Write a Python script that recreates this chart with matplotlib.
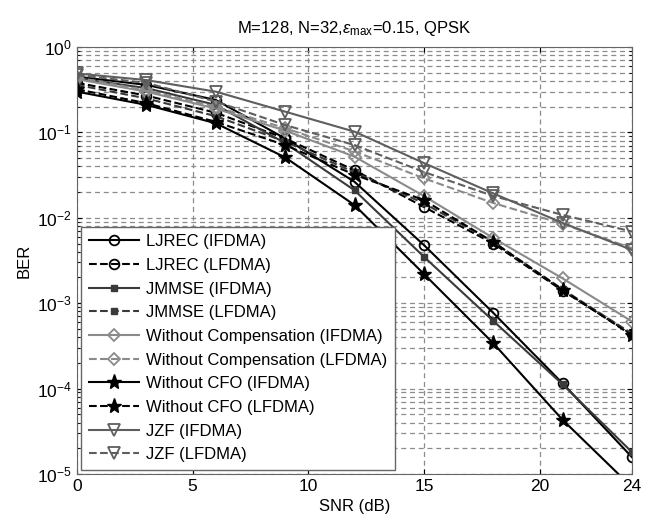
import numpy as np
import matplotlib
matplotlib.use('Agg')
import matplotlib.pyplot as plt
from matplotlib.ticker import LogLocator, NullFormatter

plt.rcParams['font.family'] = ['Liberation Sans', 'DejaVu Sans']
plt.rcParams['mathtext.fontset'] = 'custom'
plt.rcParams['mathtext.rm'] = 'Liberation Sans'
plt.rcParams['mathtext.it'] = 'Liberation Sans:italic'

# ---------------- data ----------------
snr = [0, 3, 6, 9, 12, 15, 18, 21, 24]

ljrec_ifdma = [0.45, 0.36, 0.24, 0.085, 0.0264, 4.8e-3, 7.7e-4, 1.15e-4, 1.57e-5]
ljrec_lfdma = [0.38, 0.27, 0.17, 0.085, 0.036, 0.0134, 5.0e-3, 1.4e-3, 4.3e-4]
jmmse_ifdma = [0.43, 0.33, 0.21, 0.075, 0.021, 3.5e-3, 6.2e-4, 1.12e-4, 1.8e-5]
jmmse_lfdma = [0.36, 0.25, 0.155, 0.078, 0.034, 0.0148, 5.2e-3, 1.45e-3, 4.4e-4]
wocomp_ifdma = [0.42, 0.30, 0.19, 0.105, 0.052, 0.018, 5.8e-3, 1.95e-3, 6.1e-4]
wocomp_lfdma = [0.44, 0.31, 0.20, 0.112, 0.060, 0.029, 0.0149, 8.5e-3, 4.4e-3]
wocfo_ifdma = [0.30, 0.21, 0.128, 0.051, 0.0141, 2.2e-3, 3.4e-4, 4.3e-5, 7e-6]
wocfo_lfdma = [0.32, 0.22, 0.133, 0.071, 0.032, 0.0161, 5.2e-3, 1.43e-3, 4.2e-4]
jzf_ifdma = [0.49, 0.41, 0.30, 0.175, 0.102, 0.0438, 0.0193, 0.0087, 4.2e-3]
jzf_lfdma = [0.47, 0.38, 0.23, 0.122, 0.071, 0.0344, 0.018, 0.0108, 6.9e-3]

labels = ['LJREC (IFDMA)', 'LJREC (LFDMA)', 'JMMSE (IFDMA)', 'JMMSE (LFDMA)',
          'Without Compensation (IFDMA)', 'Without Compensation (LFDMA)',
          'Without CFO (IFDMA)', 'Without CFO (LFDMA)',
          'JZF (IFDMA)', 'JZF (LFDMA)']

# ---------------- figure ----------------
fig = plt.figure(figsize=(6.54, 5.2), dpi=100)
ax = fig.add_axes([0.1177, 0.0885, 0.8487, 0.8211])

c_blk = '#000000'
c_dk = '#3a3a3a'
c_gr = '#8a8a8a'
c_jz = '#5e5e5e'

ax.plot(snr, ljrec_ifdma, '-', color=c_blk, lw=1.5, marker='o', ms=7, mfc='none', mew=1.3, label=labels[0])
ax.plot(snr, ljrec_lfdma, '--', color=c_blk, lw=1.5, marker='o', ms=7, mfc='none', mew=1.3, label=labels[1])
ax.plot(snr, jmmse_ifdma, '-', color=c_dk, lw=1.5, marker='s', ms=4, mfc=c_dk, label=labels[2])
ax.plot(snr, jmmse_lfdma, '--', color=c_dk, lw=1.5, marker='s', ms=4, mfc=c_dk, label=labels[3])
ax.plot(snr, wocomp_ifdma, '-', color=c_gr, lw=1.5, marker='D', ms=6, mfc='none', mew=1.3, label=labels[4])
ax.plot(snr, wocomp_lfdma, '--', color=c_gr, lw=1.5, marker='D', ms=6, mfc='none', mew=1.3, label=labels[5])
ax.plot(snr, wocfo_ifdma, '-', color=c_blk, lw=1.5, marker='*', ms=11, mfc=c_blk, label=labels[6])
ax.plot(snr, wocfo_lfdma, '--', color=c_blk, lw=1.5, marker='*', ms=11, mfc=c_blk, label=labels[7])
ax.plot(snr, jzf_ifdma, '-', color=c_jz, lw=1.5, marker='v', ms=8, mfc='none', mew=1.3, label=labels[8])
ax.plot(snr, jzf_lfdma, '--', color=c_jz, lw=1.5, marker='v', ms=8, mfc='none', mew=1.3, label=labels[9])

ax.set_yscale('log')
ax.set_xlim(0, 24)
ax.set_ylim(1e-5, 1)
ax.set_xticks([0, 5, 10, 15, 20, 24])
ax.yaxis.set_major_locator(LogLocator(base=10, numticks=10))
ax.yaxis.set_minor_locator(LogLocator(base=10, subs=np.arange(2, 10), numticks=10))
ax.yaxis.set_minor_formatter(NullFormatter())

ax.grid(True, which='major', axis='both', color='#8c8c8c', ls=(0, (4, 3)), lw=0.9)
ax.grid(True, which='minor', axis='y', color='#8c8c8c', ls=(0, (4, 3)), lw=0.9)
ax.tick_params(which='both', direction='in', top=True, right=True, labelsize=12.5)
for s in ax.spines.values():
    s.set_color('#666666')

ax.set_xlabel('SNR (dB)', fontsize=12)
ax.set_ylabel('BER', fontsize=12)
ax.set_title(r'M=128, N=32,$\varepsilon_{\rm max}$=0.15, QPSK', fontsize=12, pad=10)

leg = ax.legend(loc='lower left', fontsize=12, handlelength=3.0, labelspacing=0.52,
                fancybox=False, framealpha=1, edgecolor='#666666',
                borderaxespad=0.25, handletextpad=0.45, borderpad=0.45)
leg.get_frame().set_linewidth(1.0)

fig.savefig('out.png', dpi=100)
